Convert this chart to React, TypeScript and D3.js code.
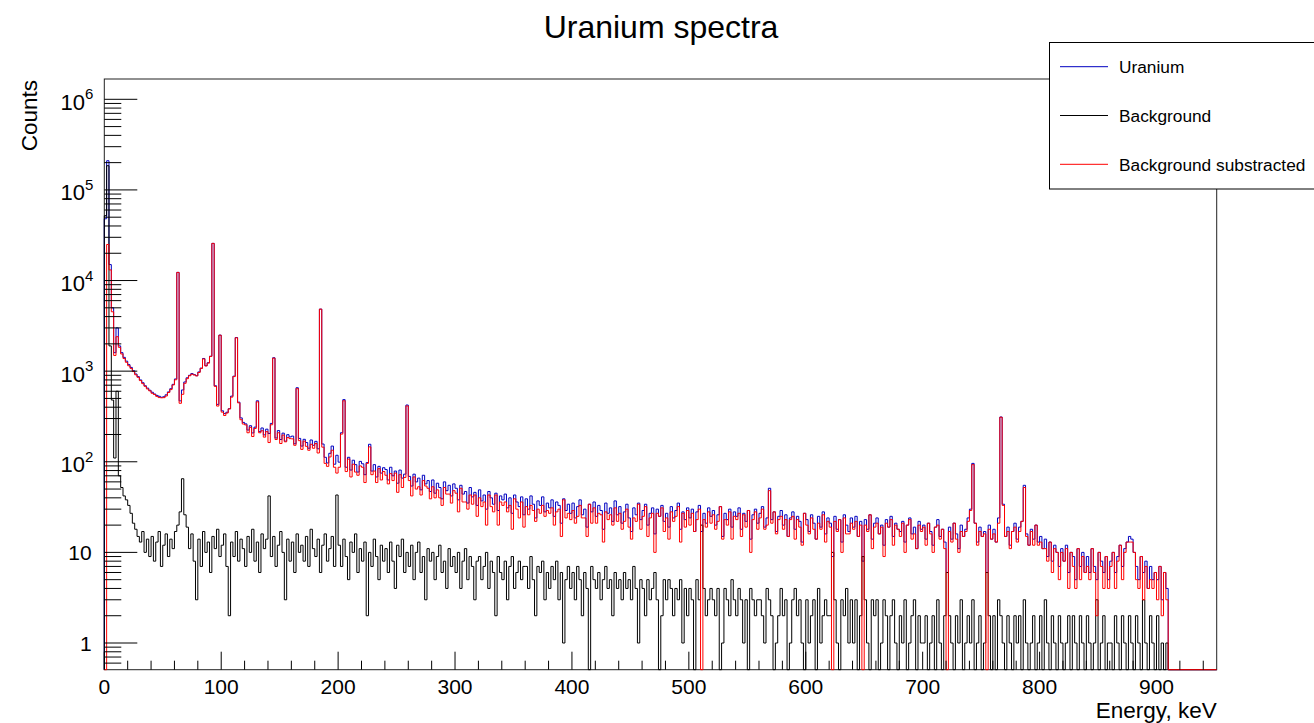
import * as d3 from "d3";

// frame in px (ROOT canvas 1314x723)
const FRAME = { left: 104.3, right: 1216.7, top: 79, bottom: 669.7 };
const FONT = "'Liberation Sans', Arial, Helvetica, sans-serif";

const BIN_WIDTH = 2; // keV per bin
const X_MAX = 951.5;
const Y_MIN = 0.5075;
const Y_MAX = 1.675e6;

// counts per 2 keV bin, 0 .. 910 keV
const uranium = [
  48000, 210000, 15000, 5000, 1600, 3000, 1900, 1600, 1420, 1290,
  1180, 1100, 1010, 930, 870, 800, 745, 690, 650, 615,
  585, 560, 540, 528, 515, 522, 548, 590, 640, 715,
  820, 12300, 470, 620, 760, 845, 900, 940, 915, 890,
  980, 1080, 1380, 1150, 1240, 1460, 25700, 690, 430, 2500,
  365, 340, 352, 385, 530, 880, 2350, 455, 305, 272,
  262, 224, 250, 208, 241, 471, 215, 236, 198, 229,
  205, 265, 1406, 183, 221, 176, 207, 169, 199, 188,
  192, 158, 656, 181, 149, 177, 163, 141, 174, 152,
  168, 139, 4840, 157, 112, 97, 124, 149, 94, 118,
  99, 209, 485, 87, 112, 81, 104, 93, 77, 101,
  95, 72, 98, 156, 79, 93, 68, 89, 75, 86,
  82, 63, 87, 70, 79, 58, 81, 66, 73, 423,
  69, 54, 73, 60, 66, 49, 71, 57, 62, 47,
  63, 45, 58, 52, 39, 60, 48, 55, 42, 57,
  51, 38, 55, 44, 47, 35, 52, 41, 46, 33,
  49, 37, 43, 30, 47, 40, 34, 45, 29, 42,
  38, 44, 31, 40, 27, 43, 36, 32, 41, 26,
  39, 30, 42, 34, 24, 37, 33, 41, 28, 35,
  31, 38, 25, 36, 33, 21, 39, 29, 34, 27,
  35, 24, 32, 38, 26, 30, 19, 34, 28, 36,
  25, 33, 29, 18, 35, 27, 31, 22, 37, 26,
  32, 21, 28, 34, 24, 17, 31, 26, 35, 23,
  29, 34, 20, 27, 31, 16, 30, 25, 33, 22,
  27, 19, 32, 24, 29, 35, 18, 28, 23, 31,
  24, 30, 17, 28, 33, 17, 27, 21, 31, 25,
  29, 20, 26, 32, 15, 27, 23, 30, 19, 28,
  25, 31, 18, 27, 22, 29, 14, 26, 30, 21,
  27, 32, 19, 24, 51, 23, 28, 17, 25, 29,
  20, 26, 15, 24, 28, 18, 25, 22, 13, 27,
  23, 17, 26, 21, 14, 25, 19, 28, 16, 24,
  21, 9, 25, 18, 23, 13, 26, 20, 17, 24,
  19, 25, 15, 22, 8, 23, 18, 26, 14, 21,
  24, 16, 20, 12, 23, 19, 25, 15, 21, 18,
  17, 22, 13, 20, 24, 16, 19, 11, 22, 18,
  20, 14, 21, 17, 12, 19, 23, 15, 18, 13,
  6, 19, 14, 21, 16, 11, 20, 15, 18, 24,
  30, 96, 21, 13, 19, 15, 17, 6, 20, 14,
  18, 13, 24, 312, 34, 15, 19, 12, 17, 21,
  14, 19, 22, 55, 16, 12, 18, 14, 20, 13,
  15, 11, 14, 9, 13, 8, 12, 10, 7, 11,
  8, 12, 6, 10, 9, 5, 11, 7, 10, 6,
  9, 6, 11, 7, 5, 10, 8, 6, 9, 5,
  8, 10, 6, 9, 12, 7, 11, 13, 15, 14,
  10, 7, 5, 9, 6, 8, 4, 7, 5, 6,
  5, 7, 3, 6, 4,
];

const background = [
  52000, 185000, 1900, 480, 110, 600, 70, 52, 42, 38,
  33, 27, 21, 18, 15, 13, 17, 10, 14, 9,
  15, 8, 13, 17, 7, 12, 16, 9, 14, 11,
  17, 20, 28, 65, 26, 19, 11, 16, 8, 3,
  14, 7, 17, 10, 13, 6, 15, 11, 18, 9,
  12, 16, 7, 2, 13, 9, 17, 8, 14, 11,
  7, 15, 10, 18, 8, 13, 6, 16, 11, 14,
  42, 9, 15, 7, 12, 17, 10, 3, 14, 8,
  13, 6, 16, 10, 12, 8, 15, 7, 18, 11,
  9, 14, 6, 12, 16, 8, 11, 15, 7, 43,
  12, 7, 14, 9, 5, 13, 10, 16, 6, 11,
  8, 13, 2, 10, 7, 14, 9, 5, 12, 8,
  11, 6, 13, 8, 4, 12, 9, 14, 6, 10,
  7, 12, 5, 10, 13, 6, 9, 3, 11, 8,
  10, 5, 9, 12, 6, 8, 4, 11, 7, 9,
  6, 10, 4, 8, 11, 5, 9, 7, 3, 8,
  9, 5, 7, 10, 4, 8, 6, 2, 9, 6,
  5, 8, 3, 7, 9, 4, 6, 8, 5, 7,
  7, 4, 9, 5, 2, 7, 6, 8, 3, 6,
  4, 7, 5, 8, 3, 6, 1, 5, 7, 4,
  6, 3, 7, 5, 2, 6, 4, 0, 7, 5,
  4, 6, 3, 5, 7, 4, 5, 2, 6, 4,
  5, 3, 6, 4, 5, 3, 7, 4, 1, 5,
  4, 2, 5, 3, 4, 6, 3, 0, 2, 5,
  3, 5, 4, 2, 4, 3, 5, 1, 4, 2,
  4, 3, 0, 5, 3, 20, 4, 2, 3, 4,
  3, 2, 4, 0, 1, 4, 3, 2, 5, 3,
  2, 4, 3, 1, 3, 0, 4, 3, 2, 3,
  3, 2, 1, 4, 3, 2, 0, 1, 2, 4,
  2, 3, 0, 1, 3, 4, 2, 3, 1, 0,
  3, 1, 2, 3, 0, 4, 1, 2, 3, 2,
  2, 10, 3, 1, 0, 3, 2, 4, 1, 3,
  1, 3, 0, 2, 9, 3, 1, 0, 3, 2,
  3, 0, 1, 3, 2, 0, 2, 3, 1, 0,
  2, 1, 3, 0, 1, 2, 3, 0, 2, 1,
  1, 2, 0, 1, 2, 0, 3, 1, 0, 2,
  6, 2, 1, 0, 2, 1, 3, 0, 1, 2,
  1, 3, 0, 1, 2, 0, 1, 6, 2, 0,
  2, 0, 3, 2, 1, 0, 2, 1, 0, 2,
  1, 2, 0, 3, 1, 0, 1, 2, 0, 1,
  2, 0, 3, 1, 0, 2, 1, 0, 2, 1,
  0, 1, 2, 0, 2, 1, 0, 2, 1, 0,
  2, 1, 0, 1, 3, 0, 1, 2, 0, 1,
  1, 0, 2, 1, 0, 2, 1, 0, 2, 1,
  0, 2, 1, 0, 3, 1, 0, 2, 1, 0,
  2, 0, 1, 0, 1,
];

const xTickLabels = [0, 100, 200, 300, 400, 500, 600, 700, 800, 900];
const yDecades = [0, 1, 2, 3, 4, 5, 6];
const legendLabels = ["Uranium", "Background", "Background substracted"];
const colors = ["#0000c0", "#000000", "#ff0000"];

export default function App() {
  const x = d3.scaleLinear().domain([0, X_MAX]).range([FRAME.left, FRAME.right]);
  const y = d3.scaleLog().domain([Y_MIN, Y_MAX]).range([FRAME.bottom, FRAME.top]);

  const subtracted = uranium.map((u, i) => u - background[i]);

  const line = d3
    .line<[number, number]>()
    .x((d) => x(d[0]))
    .y((d) => y(d[1]))
    .curve(d3.curveStepAfter);

  // ROOT-style outline: empty / negative bins sit on the frame bottom
  const histPath = (vals: number[]) => {
    const pts: [number, number][] = [[0, Y_MIN]];
    vals.forEach((v, i) => pts.push([i * BIN_WIDTH, v > Y_MIN ? v : Y_MIN]));
    pts.push([vals.length * BIN_WIDTH, Y_MIN]);
    pts.push([X_MAX, Y_MIN]);
    return line(pts) || "";
  };

  const series = [uranium, background, subtracted];

  const yMinor: number[] = [];
  for (let d = -1; d <= 6; d++) {
    for (let m = 2; m <= 9; m++) {
      const v = m * Math.pow(10, d);
      if (v >= Y_MIN && v <= Y_MAX) yMinor.push(v);
    }
  }
  const xMinor = d3.range(0, X_MAX, 20);

  return (
    <svg
      width={1314}
      height={723}
      style={{ position: "absolute", left: 0, top: 0, background: "#fff" }}
      fontFamily={FONT}
    >
      <rect width={1314} height={723} fill="#fff" />
      <text x={661} y={37.5} textAnchor="middle" fontSize={32}>
        Uranium spectra
      </text>

      {/* frame */}
      <rect
        x={FRAME.left}
        y={FRAME.top}
        width={FRAME.right - FRAME.left}
        height={FRAME.bottom - FRAME.top}
        fill="none"
        stroke="#222"
        strokeWidth={1}
      />

      {/* histograms */}
      <g fill="none" strokeWidth={1}>
        {series.map((s, i) => (
          <path key={i} d={histPath(s)} stroke={colors[i]} />
        ))}
      </g>

      {/* y axis */}
      <g stroke="#000" strokeWidth={1}>
        {yMinor.map((v) => (
          <line key={"m" + v} x1={FRAME.left} x2={FRAME.left + 17} y1={y(v)} y2={y(v)} />
        ))}
        {yDecades.map((d) => (
          <line
            key={"M" + d}
            x1={FRAME.left}
            x2={FRAME.left + 33}
            y1={y(Math.pow(10, d))}
            y2={y(Math.pow(10, d))}
          />
        ))}
      </g>
      <g fontSize={21} textAnchor="end">
        {yDecades.map((d) => {
          const ty = y(Math.pow(10, d));
          if (d === 0) return <text key={d} x={91.7} y={ty + 7.5}>1</text>;
          if (d === 1) return <text key={d} x={91.7} y={ty + 7.5}>10</text>;
          return (
            <text key={d} x={93.3} y={ty + 10.5} fontSize={22}>
              10
              <tspan dy={-10.5} fontSize={15}>
                {d}
              </tspan>
            </text>
          );
        })}
      </g>
      <text transform="translate(36.5,80) rotate(-90)" textAnchor="end" fontSize={22.5}>
        Counts
      </text>

      {/* x axis */}
      <g stroke="#000" strokeWidth={1}>
        {xMinor.map((v) => (
          <line
            key={v}
            x1={x(v)}
            x2={x(v)}
            y1={FRAME.bottom}
            y2={FRAME.bottom - (v % 100 === 0 ? 18 : 9)}
          />
        ))}
      </g>
      <g fontSize={21} textAnchor="middle">
        {xTickLabels.map((v) => (
          <text key={v} x={x(v)} y={694}>
            {v}
          </text>
        ))}
      </g>
      <text x={FRAME.right} y={717.5} textAnchor="end" fontSize={22.5}>
        Energy, keV
      </text>

      {/* legend */}
      <rect x={1049.5} y={42.5} width={300} height={146.5} fill="#fff" stroke="#000" strokeWidth={1} />
      {legendLabels.map((l, i) => {
        const ly = 66.7 + i * 48.8;
        return (
          <g key={l}>
            <line x1={1060} x2={1108} y1={ly} y2={ly} stroke={colors[i]} strokeWidth={1} />
            <text x={1119} y={ly + 6.3} fontSize={17.3}>
              {l}
            </text>
          </g>
        );
      })}
    </svg>
  );
}
